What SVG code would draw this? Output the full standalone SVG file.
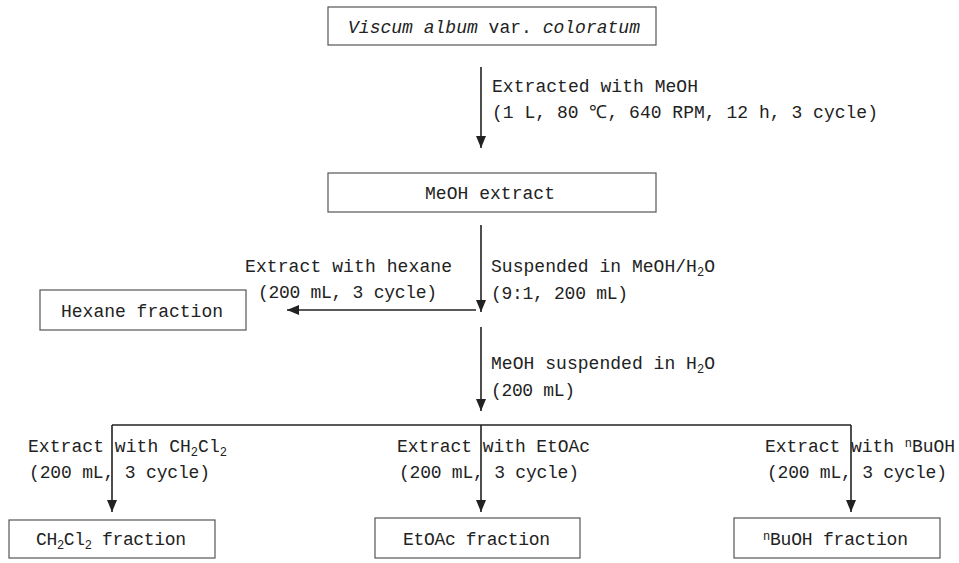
<svg xmlns="http://www.w3.org/2000/svg" width="959" height="563" viewBox="0 0 959 563">
<defs>
<style>
.box{fill:#fff;stroke:#555;stroke-width:1.2}
.t{font-family:"Liberation Mono","DejaVu Sans Mono",monospace;font-size:18px;fill:#222}
.it{font-style:italic}
.sub{font-size:12px}
.ln{fill:none;stroke:#222;stroke-width:1.6}
</style>
<marker id="ah" markerWidth="12" markerHeight="10" refX="12" refY="5" orient="auto" markerUnits="userSpaceOnUse">
<path d="M0,0 L12,5 L0,10 z" fill="#222"/>
</marker>
</defs>
<rect width="959" height="563" fill="#fff"/>

<g id="connectors">
<path class="ln" d="M481,67 V148" marker-end="url(#ah)"/>
<path class="ln" d="M481,225 V312" marker-end="url(#ah)"/>
<path class="ln" d="M476,310 H287" marker-end="url(#ah)"/>
<path class="ln" d="M481,327 V411" marker-end="url(#ah)"/>
<path class="ln" d="M112,425 H851"/>
<path class="ln" d="M112,425 V512" marker-end="url(#ah)"/>
<path class="ln" d="M481,425 V512" marker-end="url(#ah)"/>
<path class="ln" d="M851,425 V512" marker-end="url(#ah)"/>
</g>

<g id="labels">
<text class="t" x="492" y="92" textLength="206" lengthAdjust="spacing">Extracted with MeOH</text>
<text class="t" x="492" y="118" textLength="386" lengthAdjust="spacing">(1 L, 80 ℃, 640 RPM, 12 h, 3 cycle)</text>
<text class="t" x="245" y="272" textLength="207" lengthAdjust="spacing">Extract with hexane</text>
<text class="t" x="258" y="298" textLength="179" lengthAdjust="spacing">(200 mL, 3 cycle)</text>
<text class="t" x="491" y="272" textLength="224" lengthAdjust="spacing">Suspended in MeOH/H<tspan class="sub" dy="4">2</tspan><tspan dy="-4">O</tspan></text>
<text class="t" x="491" y="299" textLength="137" lengthAdjust="spacing">(9:1, 200 mL)</text>
<text class="t" x="491" y="369" textLength="224" lengthAdjust="spacing">MeOH suspended in H<tspan class="sub" dy="4">2</tspan><tspan dy="-4">O</tspan></text>
<text class="t" x="491" y="396" textLength="84" lengthAdjust="spacing">(200 mL)</text>
<text class="t" x="28" y="452" textLength="199" lengthAdjust="spacing">Extract with CH<tspan class="sub" dy="4">2</tspan><tspan dy="-4">Cl</tspan><tspan class="sub" dy="4">2</tspan></text>
<text class="t" x="29" y="478" textLength="181" lengthAdjust="spacing">(200 mL, 3 cycle)</text>
<text class="t" x="397" y="452" textLength="193" lengthAdjust="spacing">Extract with EtOAc</text>
<text class="t" x="399" y="478" textLength="180" lengthAdjust="spacing">(200 mL, 3 cycle)</text>
<text class="t" x="765" y="452" textLength="190" lengthAdjust="spacing">Extract with <tspan class="sub" dy="-5">n</tspan><tspan dy="5">BuOH</tspan></text>
<text class="t" x="767" y="478" textLength="180" lengthAdjust="spacing">(200 mL, 3 cycle)</text>
</g>

<g id="node-viscum">
<rect class="box" x="328" y="7" width="328" height="38"/>
<text class="t" x="348" y="33" textLength="292" lengthAdjust="spacing"><tspan class="it">Viscum album</tspan> var. <tspan class="it">coloratum</tspan></text>
</g>

<g id="node-meoh-extract">
<rect class="box" x="328" y="173" width="328" height="39"/>
<text class="t" x="425" y="199" textLength="130" lengthAdjust="spacing">MeOH extract</text>
</g>

<g id="node-hexane">
<rect class="box" x="40" y="290" width="206" height="40"/>
<text class="t" x="61" y="317" textLength="162" lengthAdjust="spacing">Hexane fraction</text>
</g>

<g id="node-ch2cl2">
<rect class="box" x="9" y="520" width="206" height="38"/>
<text class="t" x="36" y="545" textLength="150" lengthAdjust="spacing">CH<tspan class="sub" dy="4">2</tspan><tspan dy="-4">Cl</tspan><tspan class="sub" dy="4">2</tspan><tspan dy="-4"> fraction</tspan></text>
</g>

<g id="node-etoac">
<rect class="box" x="375" y="518" width="205" height="40"/>
<text class="t" x="403" y="545" textLength="147" lengthAdjust="spacing">EtOAc fraction</text>
</g>

<g id="node-buoh">
<rect class="box" x="734" y="518" width="206" height="40"/>
<text class="t" x="763" y="545" textLength="145" lengthAdjust="spacing"><tspan class="sub" dy="-5">n</tspan><tspan dy="5">BuOH fraction</tspan></text>
</g>
</svg>
